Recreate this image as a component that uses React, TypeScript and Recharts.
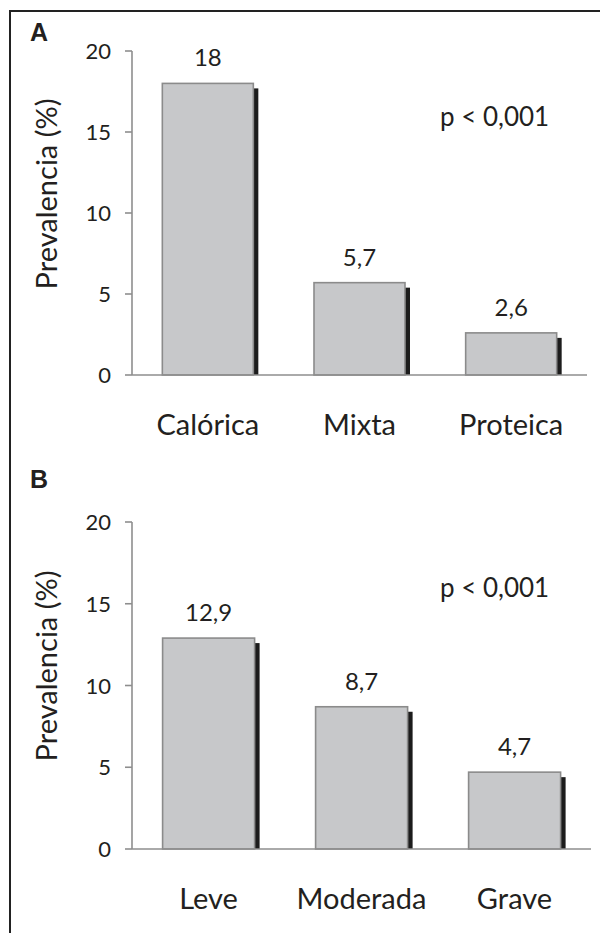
import React from 'react';
import { BarChart, Bar, XAxis, YAxis } from 'recharts';

const categoriesA = ['Calórica', 'Mixta', 'Proteica'];
const valuesA = [18, 5.7, 2.6];
const categoriesB = ['Leve', 'Moderada', 'Grave'];
const valuesB = [12.9, 8.7, 4.7];
const yTicks = [0, 5, 10, 15, 20];
const pText = 'p < 0,001';
const yLabel = 'Prevalencia (%)';

const FONT = 'Lato, "Open Sans", sans-serif';
const TEXT = '#231f20';
const AXIS = '#8e8e8e';

const fmt = (v: number) => String(v).replace('.', ',');

const ShadowBar = (props: any) => {
  const { x, y, width, height, payload } = props;
  return (
    <g>
      <rect x={x + width} y={y + 5} width={5} height={Math.max(0, height - 5)} fill="#1c1c1c" />
      <rect x={x} y={y} width={width} height={height} fill="#c7c8ca" stroke="#8b8b8b" strokeWidth={1.6} />
      <text x={x + width / 2} y={y - 17} textAnchor="middle" fontFamily={FONT} fontSize={24} fill={TEXT}>
        {fmt(payload.value)}
      </text>
    </g>
  );
};

const YTick = (props: any) => {
  const { x, y, payload } = props;
  return (
    <text x={x} y={y + 8} textAnchor="end" fontFamily={FONT} fontSize={22} fill={TEXT}>
      {payload.value}
    </text>
  );
};

const XTick = (props: any) => {
  const { x, y, payload } = props;
  return (
    <text x={x} y={y + 60} textAnchor="middle" fontFamily={FONT} fontSize={29} fill={TEXT}>
      {payload.value}
    </text>
  );
};

const Panel = ({ cats, vals, top, height, marginTop, marginRight, marginBottom, letter, letterY, pY, labelY }: any) => {
  const data = cats.map((c: string, i: number) => ({ name: c, value: vals[i] }));
  return (
    <div style={{ position: 'absolute', left: 0, top, width: 600, height }}>
      <BarChart
        width={600}
        height={height}
        data={data}
        margin={{ top: marginTop, right: marginRight, bottom: marginBottom, left: 0 }}
        barCategoryGap="20%"
        style={{ overflow: 'visible' }}
      >
        <XAxis
          dataKey="name"
          interval={0}
          height={60}
          tickLine={false}
          tickSize={0}
          tickMargin={0}
          axisLine={{ stroke: AXIS, strokeWidth: 1.6 }}
          tick={<XTick />}
        />
        <YAxis
          domain={[0, 20]}
          ticks={yTicks}
          width={132}
          tickSize={7}
          tickMargin={14}
          axisLine={{ stroke: AXIS, strokeWidth: 1.6 }}
          tickLine={{ stroke: AXIS, strokeWidth: 1.6 }}
          tick={<YTick />}
        />
        <Bar dataKey="value" isAnimationActive={false} shape={<ShadowBar />} />
      </BarChart>
      <svg style={{ position: 'absolute', left: 0, top: 0, pointerEvents: 'none' }} width={600} height={height}>
        <text x={30} y={letterY} fontFamily='"Liberation Sans", Arial, sans-serif' fontWeight="bold" fontSize={25} fill={TEXT}>
          {letter}
        </text>
        <text
          x={0}
          y={0}
          transform={`translate(57, ${labelY}) rotate(-90)`}
          textAnchor="middle"
          fontFamily={FONT}
          fontSize={29}
          fill={TEXT}
        >
          {yLabel}
        </text>
        <text x={440} y={pY} fontFamily={FONT} fontSize={26} fill={TEXT}>
          {pText}
        </text>
      </svg>
    </div>
  );
};

export default function App() {
  return (
    <div style={{ position: 'absolute', left: 0, top: 0, width: 600, height: 933, background: '#fff', overflow: 'hidden' }}>
      <div
        style={{
          position: 'absolute',
          left: 9,
          top: 10,
          right: -10,
          bottom: -10,
          borderTop: '2px solid #222',
          borderLeft: '2px solid #222',
        }}
      />
      <Panel cats={categoriesA} vals={valuesA} top={0} height={466} marginTop={51} marginRight={13} marginBottom={31} letter="A" letterY={41} pY={126} labelY={194} />
      <Panel cats={categoriesB} vals={valuesB} top={466} height={467} marginTop={56} marginRight={9} marginBottom={24} letter="B" letterY={22} pY={131} labelY={200} />
    </div>
  );
}
